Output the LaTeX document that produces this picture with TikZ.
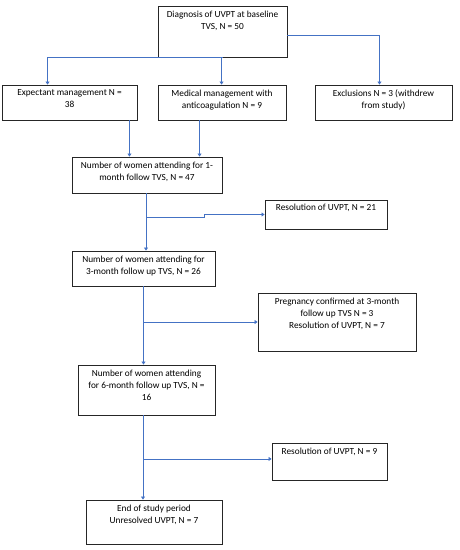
\documentclass[tikz,border=0pt]{standalone}
\usepackage{fontspec}
\setmainfont{Carlito}
\usetikzlibrary{arrows.meta,calc}
\definecolor{conn}{HTML}{4472C4}
\tikzset{
  box/.style={draw=black!85, line width=0.9pt, inner sep=0pt},
  txt/.style={anchor=north, align=center, font=\fontsize{9.3}{12}\selectfont, inner sep=0pt},
  arr/.style={draw=conn, line width=0.6pt, -{Triangle[width=4pt,length=3pt]}},
  ln/.style={draw=conn, line width=0.6pt},
}
\begin{document}
\begin{tikzpicture}[x=1pt,y=-1pt]
\useasboundingbox (0,0) rectangle (459,550);
% boxes: corners in pixel coordinates
\newcommand{\mkbox}[5]{\node[box, minimum width=#4-#2, minimum height=#5-#3] (#1) at ({(#2+#4)/2},{(#3+#5)/2}) {};}
\mkbox{top}{158}{6}{287}{57}
\mkbox{exp}{2}{85}{137}{120}
\mkbox{med}{158}{85}{286}{120}
\mkbox{exc}{315}{85}{452}{120}
\mkbox{one}{72}{157}{222}{193}
\mkbox{rtw}{265}{200}{387}{229}
\mkbox{three}{72}{251}{215}{286}
\mkbox{preg}{258}{293}{416}{351}
\mkbox{six}{78}{365}{215}{415}
\mkbox{rnine}{272}{443}{387}{480}
\mkbox{fin}{86}{500}{222}{544}
% texts
\node[txt] at ([yshift=-5pt]top.north) {Diagnosis of UVPT at baseline\\TVS, N = 50};
\node[txt] at ([yshift=-5pt]exp.north) {Expectant management N =\\38};
\node[txt] at ([yshift=-5pt]med.north) {Medical management with\\anticoagulation N = 9};
\node[txt] at ([yshift=-5pt]exc.north) {Exclusions N = 3 (withdrew\\from study)};
\node[txt] at ([yshift=-5pt]one.north) {Number of women attending for 1-\\month follow TVS, N = 47};
\node[txt] at ([yshift=-4pt]rtw.north) {Resolution of UVPT, N = 21};
\node[txt] at ([yshift=-5pt]three.north) {Number of women attending for\\3-month follow up TVS, N = 26};
\node[txt] at ([yshift=-5pt]preg.north) {Pregnancy confirmed at 3-month\\follow up TVS N = 3\\Resolution of UVPT, N = 7};
\node[txt] at ([yshift=-5pt]six.north) {Number of women attending\\for 6-month follow up TVS, N =\\16};
\node[txt] at ([yshift=-5pt]rnine.north) {Resolution of UVPT, N = 9};
\node[txt] at ([yshift=-5pt]fin.north) {End of study period\\Unresolved UVPT, N = 7};
% connectors
\coordinate (ea) at ([xshift=46pt]exp.north west);
\coordinate (ma) at ([xshift=64pt]med.north west);
\coordinate (xa) at ([xshift=-4pt]exc.north);
\draw[ln] (top.south) -- (ea |- top.south);
\draw[arr] (ea |- top.south) -- (ea);
\draw[arr] (ma |- top.south) -- (ma);
\draw[arr] ([yshift=-3.5pt]top.east) -| (xa);
\coordinate (eb) at ([xshift=-8pt]exp.south east);
\coordinate (mb) at ([xshift=42pt]med.south west);
\draw[arr] (eb) -- (eb |- one.north);
\draw[arr] (mb) -- (mb |- one.north);
\coordinate (oa) at ([xshift=-1pt]one.south);
\draw[arr] (oa) -- (oa |- three.north);
\coordinate (b1) at ([yshift=-24pt]oa);
\draw[arr] (b1) -- ++(58,0) |- (rtw.west);
\draw[arr] (three.south) -- (three.south |- six.north);
\coordinate (b2) at (three.south |- preg.west);
\draw[arr] (b2) -- (preg.west);
\coordinate (sa) at ([xshift=-3.5pt]six.south);
\draw[arr] (sa) -- (sa |- fin.north);
\coordinate (b3) at ([yshift=-43.5pt]sa);
\draw[arr] (b3) -- (b3 -| rnine.west);
\end{tikzpicture}
\end{document}
